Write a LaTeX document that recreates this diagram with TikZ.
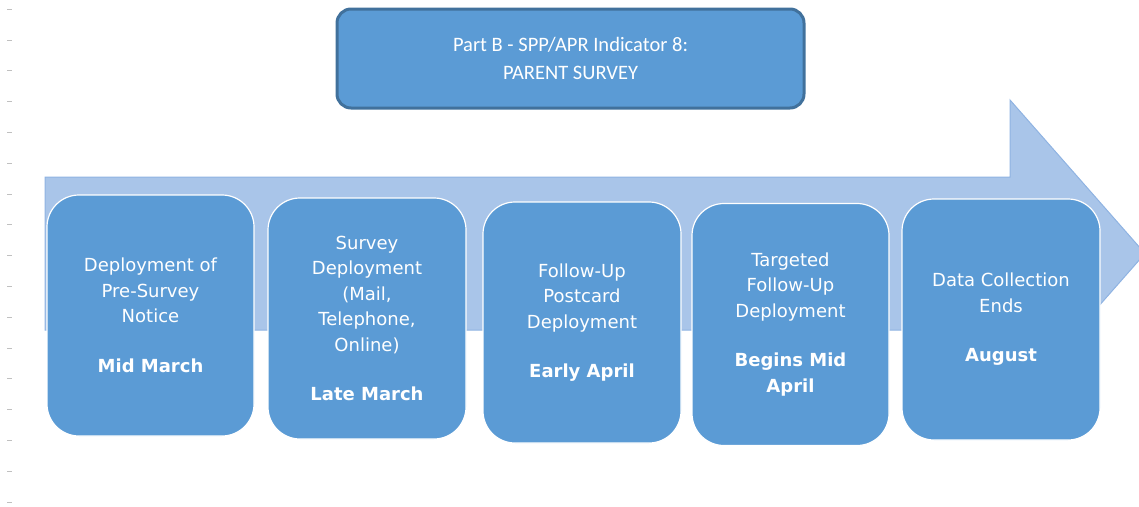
\documentclass[tikz,border=0pt]{standalone}
\usepackage{fontspec}
\setmainfont{DejaVu Sans}
\newfontfamily\titlefont{Carlito}
\definecolor{boxblue}{HTML}{5B9BD5}
\definecolor{boxedge}{HTML}{41719C}
\definecolor{arrowfill}{HTML}{A9C5E9}
\definecolor{arrowedge}{HTML}{8FB3E2}
\definecolor{tickgray}{HTML}{C0C0C0}
\tikzset{
  stagebox/.style={draw=white, line width=1.2pt, fill=boxblue, rounded corners=32pt,
    inner sep=0pt, text=white, align=center, font=\fontsize{18}{25.5}\selectfont},
  titlebox/.style={draw=boxedge, line width=3pt, fill=boxblue, rounded corners=14pt,
    inner sep=0pt, text=white, align=center, font=\titlefont\fontsize{20.5}{27.5}\selectfont},
  ticks/.style={draw=tickgray, line width=1pt},
  timeline/.style={fill=arrowfill, draw=arrowedge, line width=1pt}
}
\begin{document}
\begin{tikzpicture}[x=1pt,y=-1pt]
\useasboundingbox (0,0) rectangle (1139,506);
\clip (0,0) rectangle (1139,506);
% ruler ticks at left margin
\foreach \k in {0,...,16}{
  \draw[ticks] (7,{9.3+30.8*\k}) -- (12,{9.3+30.8*\k});
}
% big timeline arrow
\path[timeline] (45,177) -- (1010,177) -- (1010,100) -- (1145,253.5) -- (1010,407) -- (1010,330) -- (45,330) -- cycle;
% title
\node[titlebox, minimum width=467pt, minimum height=99pt] (title) at (570.5,58.5)
  {Part B - SPP/APR Indicator 8:\\PARENT SURVEY};
% stages
\node[stagebox, minimum width=207pt, minimum height=241pt] (s1) at (150.5,315.5)
  {Deployment of\\Pre-Survey\\Notice\\[24pt]\textbf{Mid March}};
\node[stagebox, minimum width=198pt, minimum height=241pt] (s2) at (367,318.5)
  {Survey\\Deployment\\(Mail,\\Telephone,\\Online)\\[24pt]\textbf{Late March}};
\node[stagebox, minimum width=198pt, minimum height=241pt] (s3) at (582,322.5)
  {Follow-Up\\Postcard\\Deployment\\[24pt]\textbf{Early April}};
\node[stagebox, minimum width=197pt, minimum height=242pt] (s4) at (790.5,324.5)
  {Targeted\\Follow-Up\\Deployment\\[24pt]\textbf{Begins Mid}\\\textbf{April}};
\node[stagebox, minimum width=198pt, minimum height=241pt] (s5) at (1001,319.5)
  {Data Collection\\Ends\\[24pt]\textbf{August}};
\end{tikzpicture}
\end{document}
